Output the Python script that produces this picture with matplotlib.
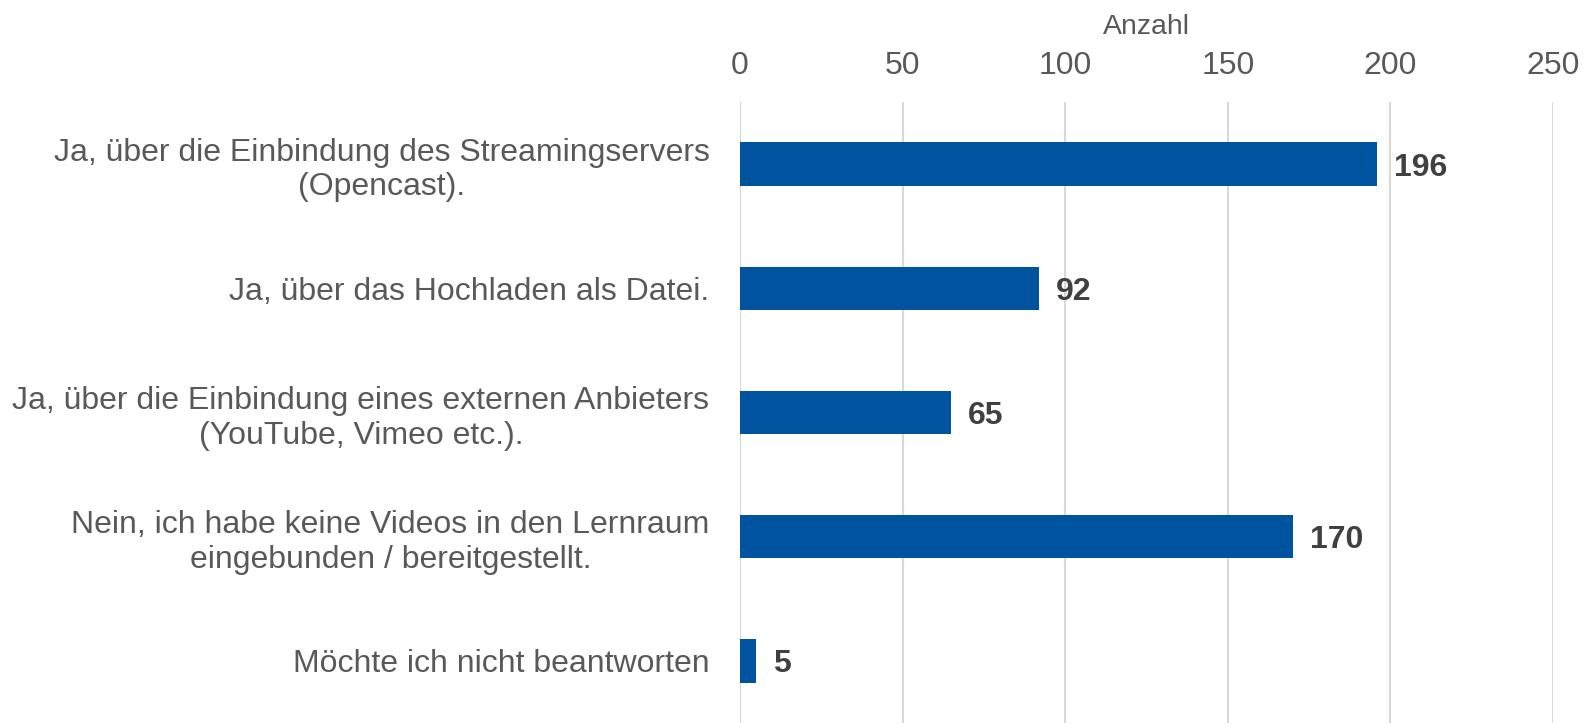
import matplotlib.pyplot as plt

# Daten
kategorien = [
    "Ja, über die Einbindung des Streamingservers\n(Opencast).",
    "Ja, über das Hochladen als Datei.",
    "Ja, über die Einbindung eines externen Anbieters\n(YouTube, Vimeo etc.).",
    "Nein, ich habe keine Videos in den Lernraum\neingebunden / bereitgestellt.",
    "Möchte ich nicht beantworten",
]
anzahl = [196, 92, 65, 170, 5]
x_ticks = [0, 50, 100, 150, 200, 250]

plt.rcParams['font.family'] = ['Liberation Sans', 'DejaVu Sans']

fig = plt.figure(figsize=(15.96, 7.23), dpi=100)
ax = fig.add_axes([740 / 1596, 0.0, (1553 - 740) / 1596, 1 - 102 / 723])

y = list(range(len(kategorien)))
bars = ax.barh(y, anzahl, height=0.35, color="#00539F", zorder=3)

ax.set_xlim(0, 250)
ax.set_ylim(len(kategorien) - 0.5, -0.5)
ax.set_xticks(x_ticks)
ax.set_yticks(y)
ax.set_yticklabels(kategorien, fontsize=23, color="#595959", multialignment="center")
ax.xaxis.tick_top()
ax.xaxis.set_label_position("top")
ax.tick_params(axis="x", labelsize=23, labelcolor="#595959", length=0, pad=15)
ax.tick_params(axis="y", length=0, pad=22)
ax.set_xlabel("Anzahl", fontsize=20.5, color="#595959", labelpad=12)

ax.grid(axis="x", color="#D9D9D9", linewidth=1.5, zorder=0)
for s in ax.spines.values():
    s.set_visible(False)

for yi, wert in zip(y, anzahl):
    ax.annotate(str(wert), xy=(wert, yi), xytext=(12, 0), textcoords="offset points",
                ha="left", va="center_baseline", fontsize=23, fontweight="bold",
                color="#404040")

plt.savefig("out.png", dpi=100)
